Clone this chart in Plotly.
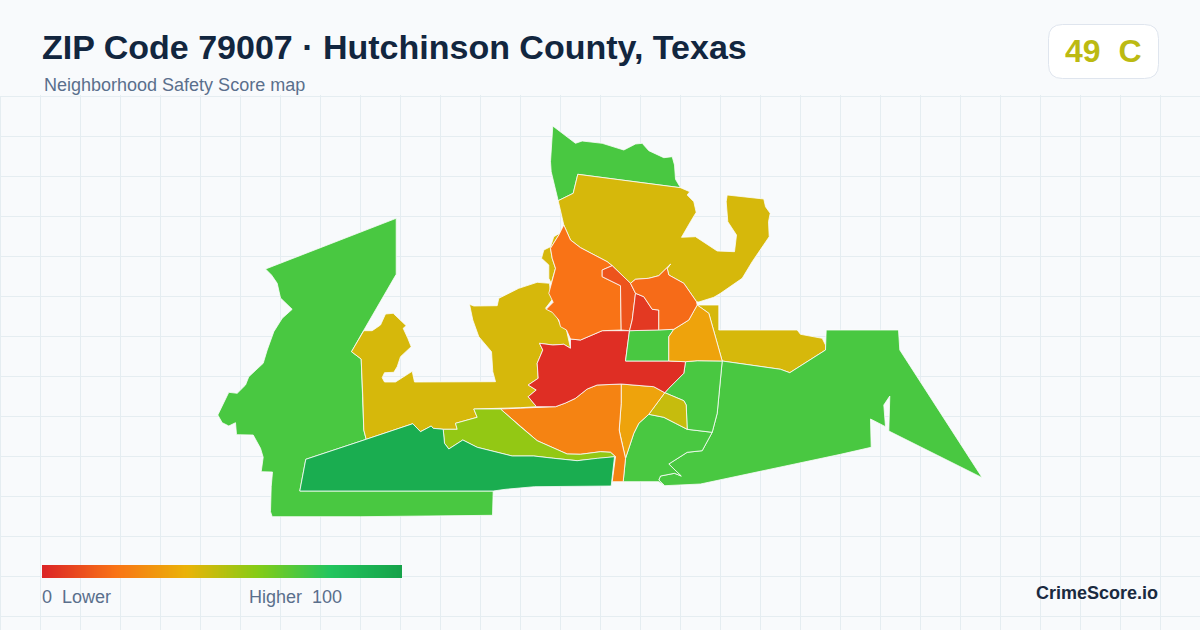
import plotly.graph_objects as go
from plotly.colors import sample_colorscale

W, H = 1200, 630
GRID_TOP = 96.5

BG = "#f8fafc"
GRID = "#e5edf1"
NAVY = "#12263f"
SLATE = "#5a6f8c"

# red -> green ramp used by the map and the legend bar
score_scale = [
    [0.0, "#dc2626"],
    [0.2, "#f97316"],
    [0.4, "#eab308"],
    [0.6, "#84cc16"],
    [0.8, "#22c55e"],
    [1.0, "#16a34a"],
]

overall_score = 49
overall_grade = "C"
legend_scores = list(range(0, 101))

# --- block group outlines (map units) ---
west_green = [(395.7,218.3),(395.7,274.3),(363,330.7),(351,351.7),(360.7,359),(362.3,396.7),(363.3,430),(365.7,439.3),(305.3,459.3),(299.3,491),(492.7,491),(492,515.3),(360,516.7),(271.7,516.7),(270,511.7),(270.7,486.7),(272,472),(260.7,471.7),(262.7,457.3),(260,448.3),(252.7,435),(236,434.7),(235,422.7),(228.3,426),(221.7,422.7),(217.3,415),(228.3,392.3),(236.7,393.3),(245,385),(248.3,376.7),(262.7,363.3),(266.7,350),(273.3,331.7),(281.7,318.3),(291.7,309.3),(280,298),(276.7,283.3),(271,275),(265,269)]
west_yellow = [(351,351.7),(363.3,330.7),(371.7,330.7),(380,325),(385,314),(392.7,313.3),(405.7,325.7),(402.7,328.3),(407.3,338.3),(410.7,346.7),(400,356.7),(396.7,366.7),(393.3,372.3),(384,372.7),(381.7,377.7),(384,382),(395,382),(403.3,376.7),(411.7,371.3),(414,382),(495,381.7),(492.3,371.7),(491,351.7),(478.3,336.7),(472.3,320),(469,304.3),(473.3,306),(496.7,305.7),(498.3,298.3),(518.3,288.3),(536.7,282.3),(549,283.3),(550,293.3),(552.7,298.3),(545,308.3),(555,313.3),(560,325),(566,330),(570,348.3),(563.3,344.3),(552.3,345),(539,343.3),(542.3,350),(536.7,363.3),(537.7,378.3),(527.7,385),(535.7,390),(527.7,396.7),(536,406.7),(520,407.7),(473.3,409),(476.7,417.3),(455,423.3),(456.7,429.3),(442.7,429.3),(432.7,428.3),(430.7,426),(420,431.7),(412.3,423.7),(365.7,439.3),(363.3,430),(362.3,396.7),(360.7,359)]
lobe_yellow = [(561.7,231.7),(563.3,225),(558.3,235),(550,248.3),(551.7,258.3),(555,268.3),(550.7,283.3),(548.3,278.3),(548.3,265),(541,258.3),(543.3,250),(550,246.7),(553.3,236.7)]
north_green = [(552.3,126),(575,143.3),(581.7,141),(601.7,143.3),(623.3,150),(635,144),(641.7,143.3),(648.3,150.7),(663.3,157.7),(671.7,156.7),(674,165),(675,179.3),(680,187.7),(577.3,174.3),(572.7,193.3),(557.7,200.7),(550.7,171.7),(550,161.7)]
north_yellow = [(577.3,174.3),(680,187.7),(689.3,191.7),(686.7,195),(693.3,201.7),(695.7,212.3),(690,221.7),(685,230),(681,237.3),(695,236.7),(716.7,251),(734,251.7),(736,235),(727.3,221.7),(725.7,201.7),(726.7,195),(763.3,199),(765,206.7),(769.7,213.3),(768,221.7),(768.7,236.7),(751.7,261.7),(741.7,278.3),(720,293.3),(713.3,297.3),(698.3,302),(696,301.7),(683.3,283.3),(668.3,275),(666.7,268.3),(670,264.3),(658.3,275.7),(648.3,278.3),(635,279.3),(630,283.3),(611.7,265.7),(606.7,261.7),(580,247.7),(570,240),(563.3,225),(560.7,213.3),(557.7,200.7),(572.7,193.3)]
east_yellow = [(696.7,305),(718.3,305),(718.3,330),(796.7,330),(800,334.3),(821.7,338.3),(825,345),(825,350),(789.3,372.7),(780,369.3),(721.7,361),(708.3,313.3)]
east_green = [(721.7,361),(780,369.3),(789.3,372.7),(825,350),(825.7,330),(898,330),(899.3,350),(981.7,477.7),(888.3,431),(889.3,396),(883.3,405),(885,426.7),(870,419),(870.7,447.3),(840,454.3),(700,484),(664,485.7),(658.3,480),(660,476),(674,473.3),(680.7,476),(668.3,464),(686.7,452.3),(701.7,450.7),(711.7,432.3),(716.7,413.3)]
south_green = [(648.3,414.3),(638.3,423.3),(633.3,433.3),(625,458.3),(622.7,481.7),(658.3,481.7),(664,485.7),(658.3,480),(660,476),(674,473.3),(680.7,476),(668.3,464),(686.7,452.3),(701.7,450.7),(711.7,432.3),(686.7,429.3),(675,423.3),(663.3,417.3)]
mid_green = [(685,361.7),(696.7,360.7),(721.7,361),(716.7,413.3),(711.7,432.3),(686.7,429.3),(685.7,405),(683.3,400.7),(664.3,392.7),(668.3,388.3),(683.3,373.3)]
small_olive = [(664.3,392.7),(683.3,400.7),(685.7,405),(686.7,429.3),(675,423.3),(663.3,417.3),(648.3,414.3)]
central_amber = [(620.7,384),(653.3,386.7),(664.3,392.7),(648.3,414.3),(638.3,423.3),(633.3,433.3),(625,458.3),(620,436.7),(618.7,430),(620.7,403.3)]
south_orange = [(500,409),(536,407.3),(555,406.7),(565,403),(575,398.3),(586.7,389),(596.7,385),(620.7,384),(620.7,403.3),(618.7,430),(620,436.7),(625,458.3),(622.7,481.7),(611.7,481.7),(615,456.7),(610,452.3),(600,451.7),(580,454.3),(566.7,454),(536.7,440.7),(520,426.7)]
lime = [(473.3,409),(500,409),(520,426.7),(536.7,440.7),(566.7,454),(580,454.3),(600,451.7),(610,452.3),(615,456.7),(596.7,458.3),(576.7,460.7),(553.3,458.3),(533.3,456),(511.7,456),(476.7,447.3),(462.3,440),(448.3,449),(444,443.3),(442.7,429.3),(456.7,429.3),(455,423.3),(476.7,417.3)]
dark_green = [(365.7,439.3),(412.3,423.7),(420,431.7),(430.7,426),(432.7,428.3),(442.7,429.3),(444,443.3),(448.3,449),(462.3,440),(476.7,447.3),(511.7,456),(533.3,456),(553.3,458.3),(576.7,460.7),(596.7,458.3),(614,456.7),(610.7,486),(534,486.7),(505,489.3),(492.7,491),(299.3,491),(305.3,459.3)]
core_red = [(539,343.3),(542.3,350),(536.7,363.3),(537.7,378.3),(527.7,385),(535.7,390),(527.7,396.7),(536,406.7),(555,406.7),(565,403),(575,398.3),(586.7,389),(596.7,385),(620.7,384),(653.3,386.7),(664.3,392.7),(668.3,388.3),(683.3,373.3),(685,361.7),(668.3,361),(625,361),(629,330.7),(601.7,330.7),(580,340),(570,339),(570,348.3),(563.3,344.3),(552.3,345)]
center_green = [(629,330.7),(658.3,330),(673.3,329.3),(668.3,336.7),(668.3,361),(625,361)]
east_amber = [(696.7,305),(708.3,313.3),(721.7,361),(696.7,360.7),(685,361.7),(668.3,361),(668.3,336.7),(673.3,329.3),(688.3,320)]
main_orange = [(563.3,225),(570,240),(580,247.7),(606.7,261.7),(611.7,265.7),(601.7,270),(601.7,276.7),(620,285.7),(620.7,330),(601.7,330.7),(580,340),(570,339),(566,330),(560,326.7),(558.3,320),(551.7,312.3),(545.7,309.3),(552.7,302.3),(548.3,293.3),(550.7,283.3),(555,268.3),(551.7,258.3),(550,248.3),(558.3,235)]
sliver_orange = [(611.7,265.7),(630,283.3),(635,293.3),(631.7,320),(629,330.7),(620.7,330),(620,285.7),(601.7,276.7),(601.7,270)]
small_red = [(635,293.3),(643.3,296.7),(651.7,309.3),(658.3,310),(658.3,330),(629,330.7),(631.7,320)]
ne_orange = [(635,279.3),(648.3,278.3),(658.3,275.7),(670,264.3),(666.7,268.3),(668.3,275),(683.3,283.3),(696,301.7),(696.7,305),(688.3,320),(673.3,329.3),(658.3,330),(658.3,310),(651.7,309.3),(643.3,296.7),(635,293.3),(630,283.3)]

zones = [
    ("West", west_green, 72),
    ("West central", west_yellow, 44),
    ("West lobe", lobe_yellow, 44),
    ("North", north_green, 72),
    ("North central", north_yellow, 44),
    ("East strip", east_yellow, 44),
    ("East", east_green, 72),
    ("South", south_green, 72),
    ("Mid east", mid_green, 72),
    ("Olive", small_olive, 47),
    ("Central amber", central_amber, 35),
    ("South orange", south_orange, 25),
    ("Lime", lime, 57),
    ("Southwest", dark_green, 94),
    ("Core", core_red, 2),
    ("Center", center_green, 72),
    ("East amber", east_amber, 35),
    ("Main orange", main_orange, 20),
    ("Sliver", sliver_orange, 12),
    ("Small red", small_red, 5),
    ("Northeast orange", ne_orange, 18),
]

fig = go.Figure()

for name, points, score in zones:
    fig.add_trace(go.Scatter(
        x=[p[0] for p in points] + [points[0][0]],
        y=[p[1] for p in points] + [points[0][1]],
        mode="lines",
        fill="toself",
        fillcolor=sample_colorscale(score_scale, score / 100)[0],
        line=dict(color="#fbfdfb", width=0.8),
        name=name,
        hovertemplate=name + ": " + str(score) + "<extra></extra>",
        showlegend=False,
    ))

# legend bar
bar_dx = 360 / len(legend_scores)
fig.add_trace(go.Heatmap(
    z=[legend_scores],
    x0=41.5 + bar_dx / 2, dx=bar_dx,
    y0=571.5, dy=13,
    zmin=0, zmax=100,
    colorscale=score_scale,
    zsmooth="best",
    showscale=False,
    hoverinfo="skip",
))


def px(x):
    return x / W


def py(y):
    return 1 - y / H


def label(text, x, y, size, color, bold=False, anchor="left"):
    fig.add_annotation(
        text=f"<b>{text}</b>" if bold else text,
        x=px(x), y=py(y), xref="paper", yref="paper",
        xanchor=anchor, yanchor="middle",
        showarrow=False, borderpad=0,
        font=dict(family="Liberation Sans", size=size, color=color),
    )


label("ZIP Code 79007 · Hutchinson County, Texas", 41, 47, 34, NAVY, bold=True)
label("Neighborhood Safety Score map", 43, 85, 18, SLATE)
label("0\u00a0\u00a0Lower", 40.5, 597, 18, SLATE)
label("Higher\u00a0\u00a0100", 247.5, 597, 18, SLATE)
label("CrimeScore.io", 1159, 593, 18, "#1a2a40", bold=True, anchor="right")
label(f"{overall_score}\u00a0\u00a0{overall_grade}", 1102.5, 51, 32, "#bcba12", bold=True, anchor="center")

# score badge, rounded rectangle in paper fractions
x0, x1, y0, y1, r = 1048.5, 1158.5, 24.5, 78.5, 14
badge = (
    f"M {px(x0 + r)} {py(y0)} L {px(x1 - r)} {py(y0)} Q {px(x1)} {py(y0)} {px(x1)} {py(y0 + r)} "
    f"L {px(x1)} {py(y1 - r)} Q {px(x1)} {py(y1)} {px(x1 - r)} {py(y1)} "
    f"L {px(x0 + r)} {py(y1)} Q {px(x0)} {py(y1)} {px(x0)} {py(y1 - r)} "
    f"L {px(x0)} {py(y0 + r)} Q {px(x0)} {py(y0)} {px(x0 + r)} {py(y0)} Z"
)
fig.add_shape(type="path", path=badge, xref="paper", yref="paper",
              fillcolor="#ffffff", line=dict(color="#dfe5ee", width=1), layer="below")

# plotly drops grid lines within 1px of the axis ends, so the left edge line is added by hand
fig.add_shape(type="line", x0=px(0.5), x1=px(0.5), y0=py(GRID_TOP), y1=0,
              xref="paper", yref="paper", line=dict(color=GRID, width=1), layer="below")

grid_slack = 1.5
fig.update_layout(
    width=W, height=H,
    margin=dict(l=0, r=0, t=0, b=0),
    paper_bgcolor=BG,
    plot_bgcolor=BG,
    showlegend=False,
    xaxis=dict(range=[-0.5, W - 0.5], tick0=0, dtick=40, showgrid=True, gridcolor=GRID, gridwidth=1,
               zeroline=False, showticklabels=False, ticks="", fixedrange=True),
    yaxis=dict(range=[H, GRID_TOP - grid_slack], domain=[0, 1 - (GRID_TOP - grid_slack) / H],
               tick0=GRID_TOP, dtick=40,
               showgrid=True, gridcolor=GRID, gridwidth=1,
               zeroline=False, showticklabels=False, ticks="", fixedrange=True),
)

fig.write_html("out.html", config=dict(displayModeBar=False),
               post_script="document.body.style.margin='0';")
